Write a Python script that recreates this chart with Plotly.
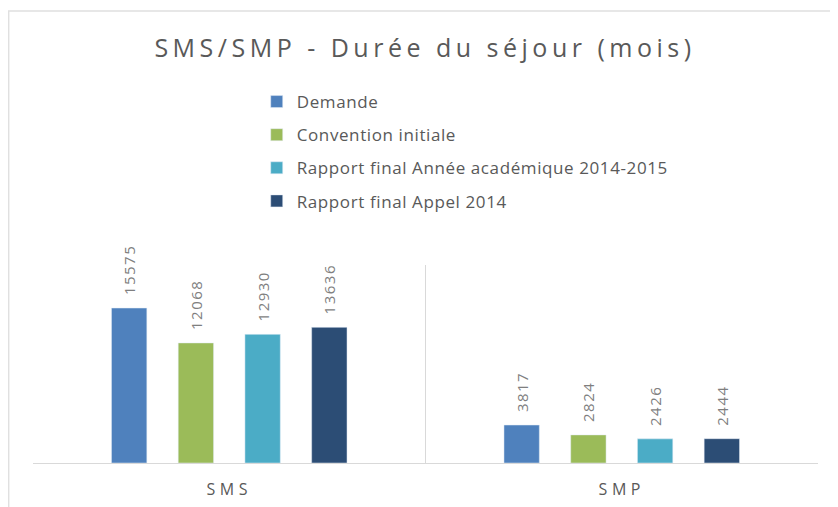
import plotly.graph_objects as go

categories = ["SMS", "SMP"]
series_names = ["Demande", "Convention initiale",
                "Rapport final Année académique 2014-2015", "Rapport final Appel 2014"]
demande = [15575, 3817]
convention = [12068, 2824]
rapport_academique = [12930, 2426]
rapport_appel = [13636, 2444]
series_values = [demande, convention, rapport_academique, rapport_appel]
colors = ["#4F81BD", "#9BBB59", "#4BACC6", "#2C4D75"]


def spaced(s, px):
    return f'<span style="letter-spacing:{px}px">{s}</span>'


def bar_label(v):
    # small leading gap between bar top and rotated label
    return '<span style="letter-spacing:6px">&nbsp;</span>' + spaced(str(v), 1.5)


fig = go.Figure()
for i, (name, vals, col) in enumerate(zip(series_names, series_values, colors)):
    fig.add_trace(go.Bar(
        x=categories, y=vals, name=spaced(name, 0.6), marker_color=col,
        text=[bar_label(v) for v in vals], textposition="outside",
        textangle=-90, cliponaxis=False, constraintext="none",
        textfont=dict(color="#7F7F7F", size=15, family="Open Sans"),
        legendgroup=f"g{i}",
    ))

fig.update_layout(
    width=838, height=507,
    margin=dict(l=25, r=28, t=257, b=52),
    paper_bgcolor="white", plot_bgcolor="white",
    barmode="group", bargap=0.32, bargroupgap=0.47,
    title=dict(text=spaced("SMS/SMP - Durée du séjour (mois)", 4.5), x=0.4976, xanchor="center",
               y=0.921, yanchor="middle",
               font=dict(family="Open Sans", size=25, color="#595959")),
    legend=dict(x=0.285, xanchor="left", y=1.914, yanchor="top",
                orientation="v", tracegroupgap=8,
                font=dict(family="Open Sans", size=17, color="#595959"),
                bgcolor="rgba(0,0,0,0)", itemwidth=30),
    showlegend=True,
    xaxis=dict(showline=True, linecolor="#D9D9D9", linewidth=1,
               showgrid=True, gridcolor="#D9D9D9", tickson="boundaries",
               tickmode="array", tickvals=categories,
               ticktext=[spaced(c, 4.5) for c in categories],
               ticks="", ticklabelstandoff=12,
               tickfont=dict(family="Open Sans", size=16, color="#595959"),
               fixedrange=True),
    yaxis=dict(range=[0, 19900], visible=False, showgrid=False, fixedrange=True),
    shapes=[dict(type="rect", xref="paper", yref="paper",
                 x0=-0.031, x1=1.2, y0=-0.5, y1=2.283,
                 line=dict(color="#E0E0E0", width=1.5), layer="below")],
)

fig.write_html("out.html")
